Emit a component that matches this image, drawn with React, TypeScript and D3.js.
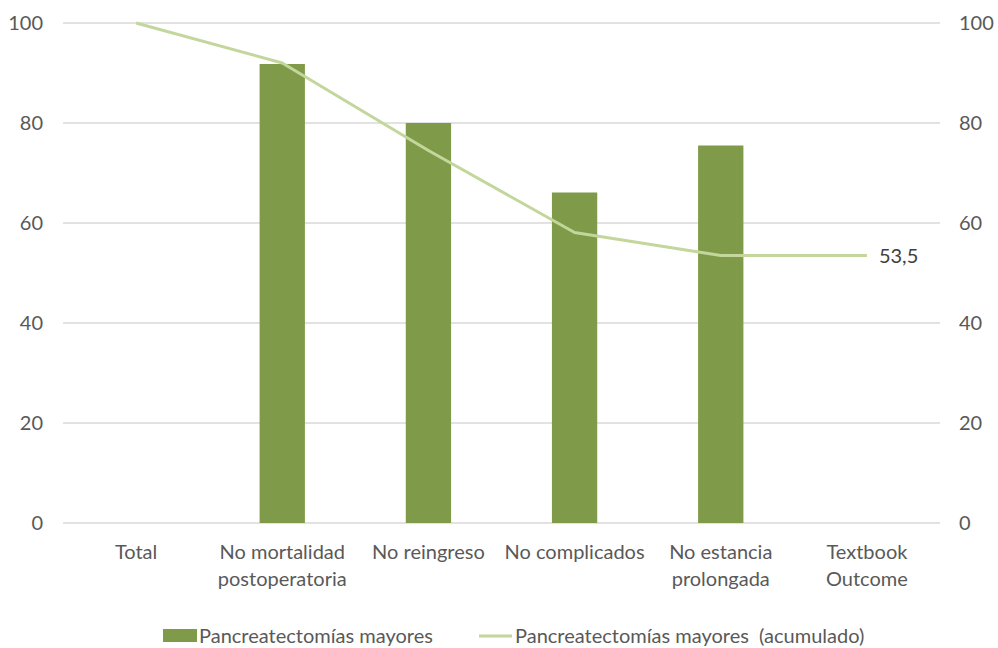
import React from "react";
import * as d3 from "d3";

const categories = [
  "Total",
  "No mortalidad postoperatoria",
  "No reingreso",
  "No complicados",
  "No estancia prolongada",
  "Textbook Outcome",
];
const categoryLines = [
  ["Total"],
  ["No mortalidad", "postoperatoria"],
  ["No reingreso"],
  ["No complicados"],
  ["No estancia", "prolongada"],
  ["Textbook", "Outcome"],
];
const barValues: (number | null)[] = [null, 91.8, 80, 66.1, 75.5, null];
const cumulativeValues = [100, 92, 74.5, 58.1, 53.5, 53.5];
const yTicks = [0, 20, 40, 60, 80, 100];
const barLabel = "Pancreatectomías mayores";
const lineLabel = "Pancreatectomías mayores  (acumulado)";

const W = 998;
const H = 648;
const left = 63;
const right = 940;
const top = 23;
const bottom = 523;
const FONT = "Lato, 'Open Sans', sans-serif";
const TEXT = "#595959";
const FS = 20;

export default function App() {
  const x = d3.scaleBand<string>().domain(categories).range([left, right]).paddingInner(0).paddingOuter(0);
  const y = d3.scaleLinear().domain([0, 100]).range([bottom, top]);
  const bw = x.bandwidth() * 0.31;
  const cx = (c: string) => (x(c) ?? 0) + x.bandwidth() / 2;
  const line = d3
    .line<number>()
    .x((_, i) => cx(categories[i]))
    .y((d) => y(d));
  const lastIdx = cumulativeValues.length - 1;

  return (
    <svg
      width={W}
      height={H}
      style={{ position: "absolute", left: 0, top: 0, background: "#fff" }}
      fontFamily={FONT}
    >
      {yTicks.map((t) => (
        <g key={t}>
          <line x1={left} x2={right} y1={y(t)} y2={y(t)} stroke="#d9d9d9" strokeWidth={1.3} />
          <text x={43} y={y(t)} dy="0.35em" textAnchor="end" fontSize={FS} fill={TEXT}>
            {t}
          </text>
          <text x={959} y={y(t)} dy="0.35em" textAnchor="start" fontSize={FS} fill={TEXT}>
            {t}
          </text>
        </g>
      ))}
      {categories.map((c, i) =>
        barValues[i] == null ? null : (
          <rect
            key={c}
            x={cx(c) - bw / 2}
            y={y(barValues[i] as number)}
            width={bw}
            height={bottom - y(barValues[i] as number)}
            fill="#7f9a48"
          />
        )
      )}
      <path d={line(cumulativeValues) ?? ""} fill="none" stroke="#c3d69b" strokeWidth={3} strokeLinejoin="round" />
      <text
        x={cx(categories[lastIdx]) + 12}
        y={y(cumulativeValues[lastIdx])}
        dy="0.35em"
        fontSize={FS}
        fill="#404040"
      >
        {String(cumulativeValues[lastIdx]).replace(".", ",")}
      </text>
      {categories.map((c, i) => (
        <text key={c} x={cx(c)} y={552} textAnchor="middle" fontSize={FS} fill={TEXT}>
          {categoryLines[i].map((ln, j) => (
            <tspan key={j} x={cx(c)} dy={j === 0 ? "0.35em" : 27}>
              {ln}
            </tspan>
          ))}
        </text>
      ))}
      <g>
        <rect x={163} y={629} width={34} height={13} fill="#7f9a48" />
        <text x={199} y={636} dy="0.35em" fontSize={FS} fill={TEXT}>
          {barLabel}
        </text>
        <line x1={479} x2={512} y1={636} y2={636} stroke="#c3d69b" strokeWidth={3} />
        <text x={515} y={636} dy="0.35em" fontSize={FS} fill={TEXT} style={{ whiteSpace: "pre" }}>
          {lineLabel}
        </text>
      </g>
    </svg>
  );
}
